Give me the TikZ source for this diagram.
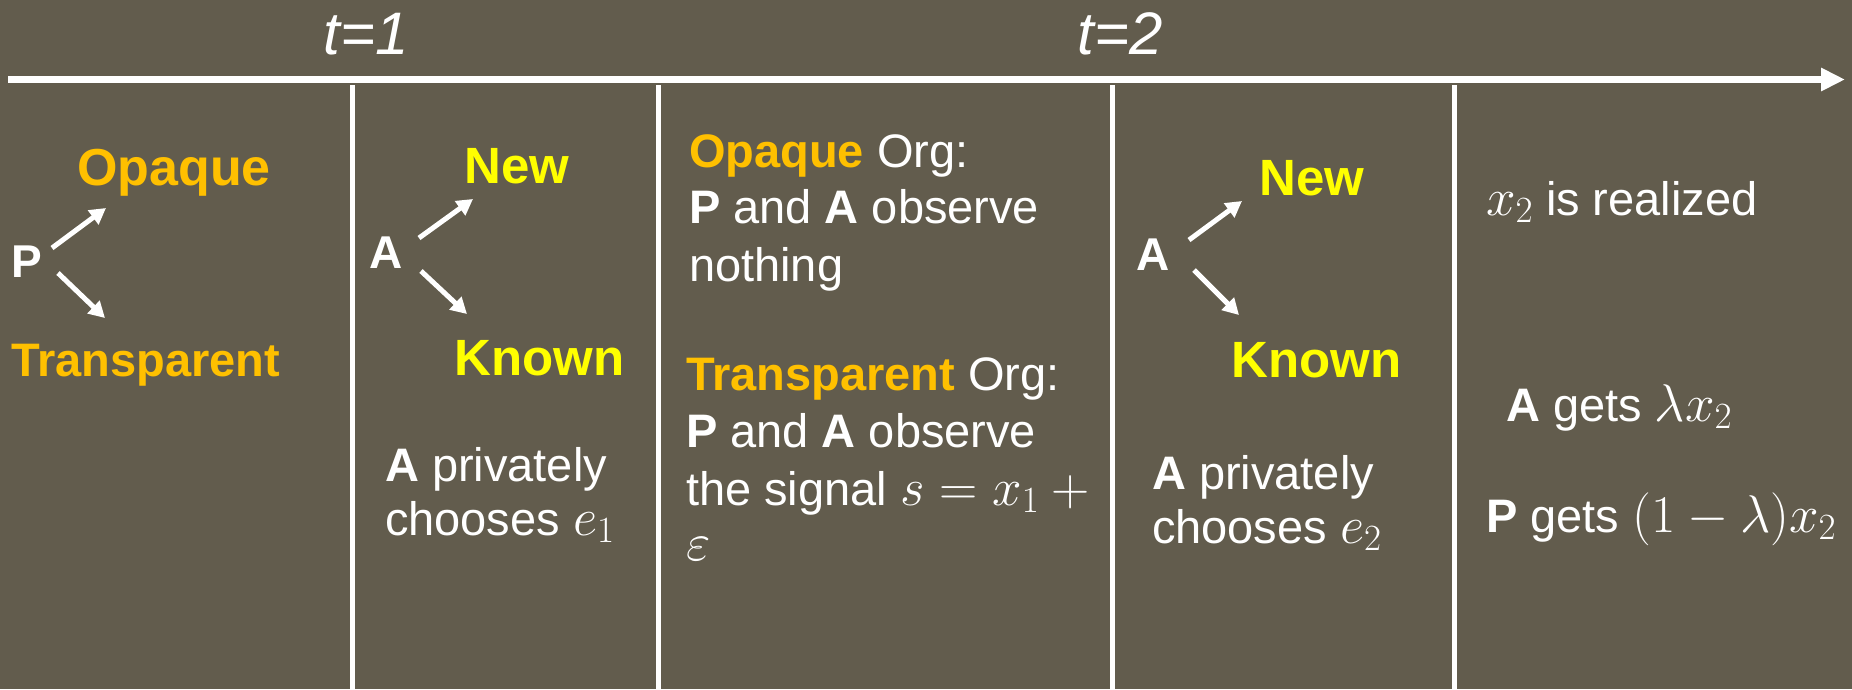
\RequirePackage{fix-cm}
\documentclass[tikz,border=0pt]{standalone}
\usepackage{fontspec}
\setmainfont{Liberation Sans}
\usetikzlibrary{arrows.meta}
\definecolor{bgc}{HTML}{625C4D}
\definecolor{orgc}{HTML}{FFC000}
\definecolor{yelc}{HTML}{FFFF00}
\DeclareMathSizes{47}{53}{37}{28}
\newcommand{\fsBody}{\fontsize{47}{56}\selectfont}
\newcommand{\fsTitle}{\fontsize{60}{70}\selectfont\itshape}
\newcommand{\fsBig}{\fontsize{51}{60}\selectfont\bfseries}
\newcommand{\fsLetter}{\fontsize{46}{56}\selectfont\bfseries}
\begin{document}
\begin{tikzpicture}[x=1pt,y=-1pt,
  txt/.style={anchor=base west, inner sep=0pt, outer sep=0pt, text=white, font=\fsBody},
  ttl/.style={anchor=base, inner sep=0pt, text=white, font=\fsTitle},
  bigy/.style={anchor=base west, inner sep=0pt, text=yelc, font=\fsBig},
  letter/.style={anchor=base west, inner sep=0pt, text=white, font=\fsLetter},
  timeline/.style={draw=white, line width=7pt, -{Triangle[length=24pt,width=22pt]}},
  sep/.style={draw=white, line width=5pt},
  choice/.style={draw=white, line width=5pt, -{Triangle[length=16pt,width=17pt]}}
]
\fill[bgc] (0,0) rectangle (1852,689);
\useasboundingbox (0,0) rectangle (1852,689);

% timeline
\coordinate (tl0) at (8,79.5);
\coordinate (tl1) at (1845,79.5);
\draw[timeline] (tl0) -- (tl1);
\node[ttl] (t1) at (366,54) {t=1};
\node[ttl] (t2) at (1120,54) {t=2};

% separators
\foreach \i/\x in {1/352,2/658,3/1112,4/1454}{
  \coordinate (s\i a) at (\x,85);
  \coordinate (s\i b) at (\x,689);
  \draw[sep] (s\i a) -- (s\i b);
}

% panel 1
\node[letter] (P1) at (11,277) {P};
\node[anchor=base west, inner sep=0pt, text=orgc, font=\fontsize{52}{60}\selectfont\bfseries] (op1) at (77,185) {Opaque};
\node[anchor=base west, inner sep=0pt, text=orgc, font=\fontsize{47}{56}\selectfont\bfseries] (tr1) at (11,376) {Transparent};
\coordinate (p1a) at (52,248); \coordinate (p1b) at (106,208);
\coordinate (p1c) at (58,273); \coordinate (p1d) at (105,318);
\draw[choice] (p1a) -- (p1b);
\draw[choice] (p1c) -- (p1d);

% panel 2
\node[letter] (A2) at (369,268) {A};
\node[bigy] (new2) at (464,183) {New};
\node[bigy] (kn2) at (454,375) {Known};
\coordinate (a2a) at (419,238); \coordinate (a2b) at (473,199);
\coordinate (a2c) at (421,271); \coordinate (a2d) at (467,314);
\draw[choice] (a2a) -- (a2b);
\draw[choice] (a2c) -- (a2d);
\node[txt] (pr2) at (385,481) {\textbf{A} privately};
\node[txt] (ch2) at (385,535) {chooses $e_1$};

% panel 3
\node[txt] (o3) at (689,167) {\textcolor{orgc}{\textbf{Opaque}} Org:};
\node[txt] (o3b) at (689,223) {\textbf{P} and \textbf{A} observe};
\node[txt] (o3c) at (689,281) {nothing};
\node[txt] (t3) at (686,390) {\textcolor{orgc}{\textbf{Transparent}} Org:};
\node[txt] (t3b) at (686,447) {\textbf{P} and \textbf{A} observe};
\node[txt] (t3c) at (686,505) {the signal $s = x_1 +{}$};
\node[txt] (t3d) at (686,560) {$\varepsilon$};

% panel 4
\node[letter] (A4) at (1136,270) {A};
\node[bigy] (new4) at (1259,195) {New};
\node[bigy] (kn4) at (1231,377) {Known};
\coordinate (a4a) at (1189,240); \coordinate (a4b) at (1242,201);
\coordinate (a4c) at (1194,270); \coordinate (a4d) at (1239,315);
\draw[choice] (a4a) -- (a4b);
\draw[choice] (a4c) -- (a4d);
\node[txt] (pr4) at (1152,489) {\textbf{A} privately};
\node[txt] (ch4) at (1152,543) {chooses $e_2$};

% panel 5
\node[txt] (x5) at (1486,215) {$x_2$ is realized};
\node[txt] (ag5) at (1506,421) {\textbf{A} gets $\lambda x_2$};
\node[txt] (pg5) at (1486,532) {\textbf{P} gets $(1-\lambda)x_2$};
\end{tikzpicture}
\end{document}
